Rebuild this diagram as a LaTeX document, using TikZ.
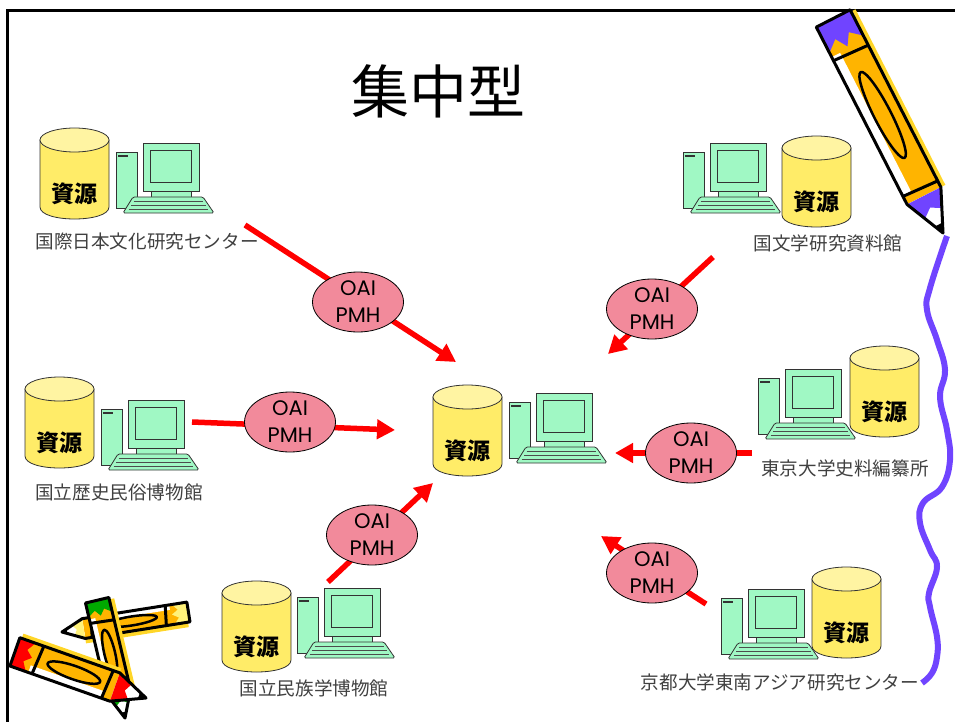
\documentclass[tikz,border=0pt]{standalone}
\usepackage{fontspec}
\newfontfamily\jpfont{Noto Sans CJK JP}
\newfontfamily\oaifont{Poppins}
\usetikzlibrary{shapes.geometric, arrows.meta}

\definecolor{dbyellow}{RGB}{255,236,104}
\definecolor{dbtop}{RGB}{255,244,162}
\definecolor{pcgreen}{RGB}{160,248,196}
\definecolor{oaipink}{RGB}{242,138,155}
\definecolor{feedred}{RGB}{255,0,0}
\definecolor{labelgray}{RGB}{64,64,64}
\definecolor{crayonbody}{RGB}{255,180,0}
\definecolor{crayonshade}{RGB}{255,214,40}
\definecolor{crayonpurple}{RGB}{112,68,255}
\definecolor{crayonred}{RGB}{255,0,0}
\definecolor{crayongreen}{RGB}{0,170,0}
\definecolor{crayoncream}{RGB}{255,242,122}

% database cylinder: #1 name of its text node, (#2,#3) top left corner
\newcommand{\database}[3]{%
  \begin{scope}[shift={(#2,#3)}]
    \filldraw[fill=dbyellow, draw=black!80, line width=0.8pt]
      (0,12) -- (0,79) .. controls (0,95) and (69,95) .. (69,79) -- (69,12) -- cycle;
    \filldraw[fill=dbtop, draw=black!80, line width=0.8pt]
      (34.5,12) ellipse [x radius=34.5, y radius=12];
    \node[dbtext] (#1) at (34.5,66) {資源};
  \end{scope}}

% desktop computer: (#1,#2) top left corner of the tower
\newcommand{\computer}[2]{%
  \begin{scope}[shift={(#1,#2)}]
    \filldraw[pc] (0,0) rectangle (21,56);
    \draw[line width=1.6pt, black!80] (2,4) -- (12,4);
    \filldraw[pc] (27,-9) rectangle (83,39);
    \filldraw[pc] (34,-2) rectangle (75,30);
    \filldraw[pc] (35,39) rectangle (75,45);
    \filldraw[pc, rounded corners=1.5pt] (17,45) -- (87,45) -- (98,61) -- (7,61) -- cycle;
    \foreach \k in {49,53,57}
      \draw[black!70, line width=0.6pt]
        ({17-(\k-45)*10/16+3},\k) -- ({87+(\k-45)*11/16-3},\k);
  \end{scope}}

% crayon with its point at (#1,#2), turned by #3, length #4, half width #5, end colour #6
\newcommand{\crayon}[6]{%
  \begin{scope}[shift={(#1,#2)}, rotate=#3, line join=round]
    % shade along one side
    \fill[crayonshade] ({-2.2*#5},{-#5+1}) -- ({-#4+2},{-#5+1})
      -- ({-#4+2},{-#5-5}) -- ({-2.2*#5},{-#5-5}) -- cycle;
    % body and highlight
    \fill[crayonbody] ({-2.2*#5},{-#5}) rectangle ({-#4},{#5});
    \fill[white] ({-2.2*#5-10},{#5}) rectangle ({-0.86*#4},{0.5*#5});
    % end cap
    \fill[#6] ({-#4},{-#5}) -- ({-0.88*#4},{-#5}) -- ({-0.92*#4},{-0.4*#5})
      -- ({-0.87*#4},0) -- ({-0.92*#4},{0.4*#5}) -- ({-0.88*#4},{#5}) -- ({-#4},{#5}) -- cycle;
    % point
    \fill[white] (0,0) -- ({-2.2*#5},{-#5}) -- ({-2.2*#5},{#5}) -- cycle;
    \fill[#6] ({-2.2*#5},{-#5}) -- ({-1.2*#5},{-0.55*#5}) -- ({-1.5*#5},0)
      -- ({-1.1*#5},{0.5*#5}) -- ({-2.2*#5},{#5}) -- cycle;
    \fill[black] (0,0) -- ({-0.5*#5},{-0.23*#5}) -- ({-0.5*#5},{0.23*#5}) -- cycle;
    % outline, bands and label ring
    \draw[line width=3pt] (0,0) -- ({-2.2*#5},{-#5}) -- ({-#4},{-#5})
      -- ({-#4},{#5}) -- ({-2.2*#5},{#5}) -- cycle;
    \draw[line width=3pt] ({-2.2*#5-7},{-#5}) -- ({-2.2*#5-9},{#5});
    \draw[line width=3pt] ({-0.86*#4+6},{-#5}) -- ({-0.86*#4+4},{#5});
    \draw[line width=2.5pt] ({-0.55*#4},0) ellipse [x radius={0.2*#4}, y radius={0.45*#5}];
  \end{scope}}

\begin{document}
\begin{tikzpicture}[
    x=1pt, y=-1pt,
    pc/.style      = {fill=pcgreen, draw=black!80, line width=0.8pt},
    dbtext/.style  = {font=\jpfont\bfseries\fontsize{23}{24}\selectfont, inner sep=0pt},
    site/.style    = {font=\jpfont\fontsize{18.6}{20}\selectfont, text=labelgray, inner sep=0pt},
    oai/.style     = {ellipse, draw=black, line width=0.8pt, fill=oaipink,
      minimum width=91pt, minimum height=60pt, inner sep=0pt, align=center,
      font=\oaifont\fontsize{21}{27}\selectfont},
    feed/.style    = {draw=feedred, line width=5.5pt,
      -{Triangle[length=18pt, width=19pt]}},
    squiggle/.style = {draw=crayonpurple, line width=6pt, line join=round}
  ]
  \useasboundingbox (0,0) rectangle (955,722);

  % ---------------- frame and title ----------------
  \draw[line width=2.5pt] (7.5,722) -- (7.5,10.5) -- (955,10.5);
  \node[font=\jpfont\fontsize{58}{60}\selectfont, inner sep=0pt] (title) at (438,91) {集中型};

  % ---------------- sites ----------------
  \database{dbNichibun}{40}{128}   \computer{116}{152}
  \node[site] (nichibun) at (147,241) {国際日本文化研究センター};

  \computer{683}{152}  \database{dbKokubun}{782}{136}
  \node[site] (kokubun) at (828,243) {国文学研究資料館};

  \database{dbRekihaku}{25}{377}   \computer{101}{409}
  \node[site] (rekihaku) at (119,492) {国立歴史民俗博物館};

  \database{dbHub}{433}{385}   \computer{509}{402}

  \computer{758}{378}  \database{dbShiryo}{850}{346}
  \node[site] (shiryo) at (845,468) {東京大学史料編纂所};

  \database{dbMinpaku}{222}{581}   \computer{297}{597}
  \node[site] (minpaku) at (314,688) {国立民族学博物館};

  \computer{721}{598}  \database{dbCseas}{812}{567}
  \node[site] (cseas) at (780,682) {京都大学東南アジア研究センター};

  % ---------------- harvesting arrows ----------------
  \coordinate (fromNichibun) at (245,225);  \coordinate (toHubA) at (456,362);
  \coordinate (fromKokubun)  at (713,257);  \coordinate (toHubB) at (608,354);
  \coordinate (fromRekihaku) at (192,422);  \coordinate (toHubC) at (395,430);
  \coordinate (fromShiryo)   at (752,453);  \coordinate (toHubD) at (615,453);
  \coordinate (fromMinpaku)  at (328,582);  \coordinate (toHubE) at (433,483);
  \coordinate (fromCseas)    at (706,604);  \coordinate (toHubF) at (601,536);

  \draw[feed] (fromNichibun) -- (toHubA);
  \draw[feed] (fromKokubun)  -- (toHubB);
  \draw[feed] (fromRekihaku) -- (toHubC);
  \draw[feed] (fromShiryo)   -- (toHubD);
  \draw[feed] (fromMinpaku)  -- (toHubE);
  \draw[feed] (fromCseas)    -- (toHubF);

  \node[oai] (oaiNichibun) at (358,302) {OAI\\PMH};
  \node[oai] (oaiKokubun)  at (652,309) {OAI\\PMH};
  \node[oai] (oaiRekihaku) at (290,422) {OAI\\PMH};
  \node[oai] (oaiShiryo)   at (691,453) {OAI\\PMH};
  \node[oai] (oaiMinpaku)  at (372,535) {OAI\\PMH};
  \node[oai] (oaiCseas)    at (652,573) {OAI\\PMH};

  % ---------------- crayons ----------------
  \draw[squiggle] plot[smooth, tension=0.7] coordinates {
    (947,236) (930,288) (927,310) (937,340) (945,370) (940,397) (947,430)
    (950,460) (942,487) (923,503) (920,523) (930,550) (937,567) (929,593)
    (930,607) (937,637) (937,657) (932,673) (922,683)};
  \crayon{943}{233}{-62.9}{241}{19}{crayonpurple}

  \crayon{62}{632}{-171}{128}{10}{crayoncream}
  \crayon{125}{718}{-76.7}{121}{12}{crayongreen}
  \crayon{146}{698}{-19.4}{139}{15}{crayonred}
\end{tikzpicture}
\end{document}
